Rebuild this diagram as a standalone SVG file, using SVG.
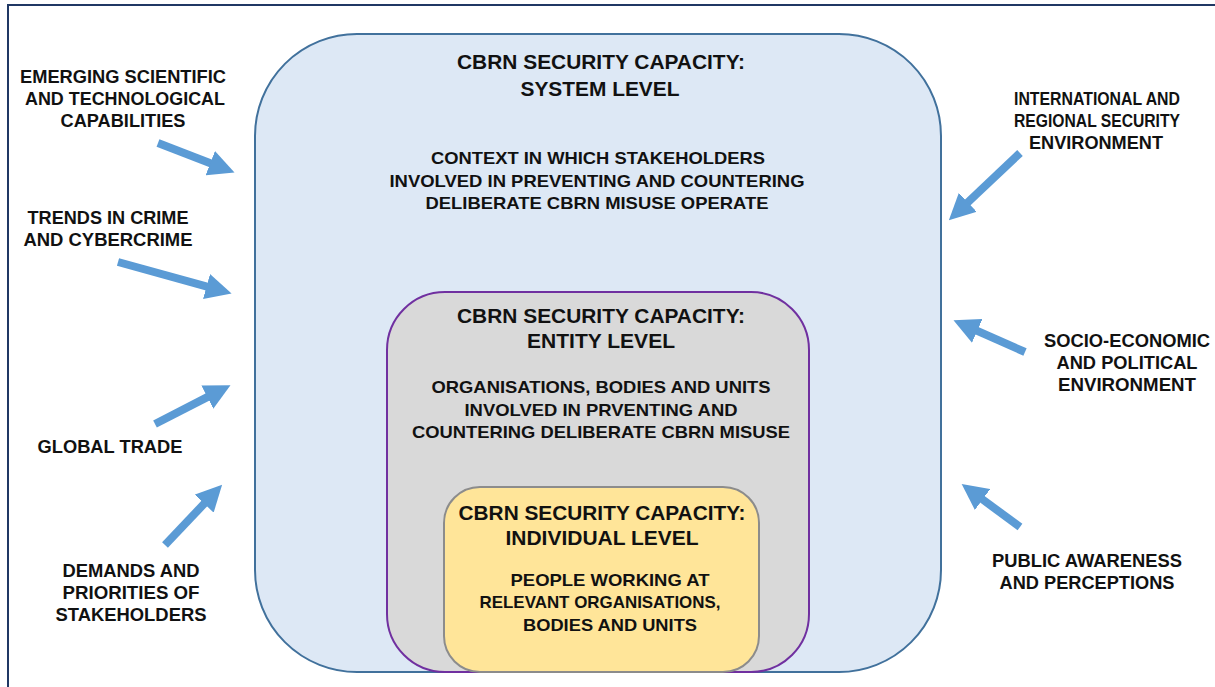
<svg xmlns="http://www.w3.org/2000/svg" width="1215" height="687" viewBox="0 0 1215 687">
  <style>
    text { font-family: "Liberation Sans", Arial, sans-serif; font-weight: bold; fill: #111; text-anchor: middle; }
    .title { font-size: 20px; }
    .body { font-size: 17px; }
    .lbl { font-size: 17.5px; }
    .arrow { stroke: #5b9bd5; stroke-width: 8; fill: none; marker-end: url(#head); }
  </style>
  <defs>
    <marker id="head" markerUnits="userSpaceOnUse" markerWidth="26" markerHeight="26" viewBox="0 0 24 24" refX="4" refY="12" orient="auto">
      <path d="M0,0 L24,12 L0,24 z" fill="#5b9bd5"/>
    </marker>
  </defs>

  <rect width="1215" height="687" fill="#ffffff"/>
  <!-- page frame -->
  <path d="M8,687 V5 H1215" fill="none" stroke="#203864" stroke-width="2"/>

  <!-- system level -->
  <g id="system">
    <rect x="255" y="34" width="686" height="638" rx="102" ry="102" fill="#dde8f5" stroke="#41719c" stroke-width="2"/>
    <text class="title" x="601" y="69" textLength="288" lengthAdjust="spacingAndGlyphs">CBRN SECURITY CAPACITY:</text>
    <text class="title" x="600" y="96" textLength="159" lengthAdjust="spacingAndGlyphs">SYSTEM LEVEL</text>
    <text class="body" x="598" y="164" textLength="334" lengthAdjust="spacingAndGlyphs">CONTEXT IN WHICH STAKEHOLDERS</text>
    <text class="body" x="597" y="187" textLength="415" lengthAdjust="spacingAndGlyphs">INVOLVED IN PREVENTING AND COUNTERING</text>
    <text class="body" x="597" y="209" textLength="343" lengthAdjust="spacingAndGlyphs">DELIBERATE CBRN MISUSE OPERATE</text>
  </g>

  <!-- entity level -->
  <g id="entity">
    <rect x="387" y="292" width="422" height="380" rx="58" ry="58" fill="#d9d9d9" stroke="#7030a0" stroke-width="2"/>
    <text class="title" x="601" y="323" textLength="288" lengthAdjust="spacingAndGlyphs">CBRN SECURITY CAPACITY:</text>
    <text class="title" x="601" y="348" textLength="148" lengthAdjust="spacingAndGlyphs">ENTITY LEVEL</text>
    <text class="body" x="601" y="393" textLength="339" lengthAdjust="spacingAndGlyphs">ORGANISATIONS, BODIES AND UNITS</text>
    <text class="body" x="601" y="416" textLength="273" lengthAdjust="spacingAndGlyphs">INVOLVED IN PRVENTING AND</text>
    <text class="body" x="601" y="438" textLength="378" lengthAdjust="spacingAndGlyphs">COUNTERING DELIBERATE CBRN MISUSE</text>
  </g>

  <!-- individual level -->
  <g id="individual">
    <rect x="444" y="487" width="315" height="185" rx="36" ry="36" fill="#ffe599" stroke="#8c8c8c" stroke-width="2"/>
    <text class="title" x="602" y="520" textLength="287" lengthAdjust="spacingAndGlyphs">CBRN SECURITY CAPACITY:</text>
    <text class="title" x="602" y="545" textLength="193" lengthAdjust="spacingAndGlyphs">INDIVIDUAL LEVEL</text>
    <text class="body" x="610" y="586" textLength="199" lengthAdjust="spacingAndGlyphs">PEOPLE WORKING AT</text>
    <text class="body" x="600" y="608" textLength="241" lengthAdjust="spacingAndGlyphs">RELEVANT ORGANISATIONS,</text>
    <text class="body" x="610" y="631" textLength="174" lengthAdjust="spacingAndGlyphs">BODIES AND UNITS</text>
  </g>

  <!-- outside influences, left -->
  <g id="emerging">
    <text class="lbl" x="123" y="83" textLength="206" lengthAdjust="spacingAndGlyphs">EMERGING SCIENTIFIC</text>
    <text class="lbl" x="125" y="105" textLength="200" lengthAdjust="spacingAndGlyphs">AND TECHNOLOGICAL</text>
    <text class="lbl" x="123" y="127" textLength="125" lengthAdjust="spacingAndGlyphs">CAPABILITIES</text>
  </g>
  <g id="trends">
    <text class="lbl" x="108" y="224" textLength="161" lengthAdjust="spacingAndGlyphs">TRENDS IN CRIME</text>
    <text class="lbl" x="108" y="246" textLength="169" lengthAdjust="spacingAndGlyphs">AND CYBERCRIME</text>
  </g>
  <g id="trade">
    <text class="lbl" x="110" y="453" textLength="145" lengthAdjust="spacingAndGlyphs">GLOBAL TRADE</text>
  </g>
  <g id="demands">
    <text class="lbl" x="131" y="577" textLength="137" lengthAdjust="spacingAndGlyphs">DEMANDS AND</text>
    <text class="lbl" x="131" y="599" textLength="137" lengthAdjust="spacingAndGlyphs">PRIORITIES OF</text>
    <text class="lbl" x="131" y="621" textLength="151" lengthAdjust="spacingAndGlyphs">STAKEHOLDERS</text>
  </g>

  <!-- outside influences, right -->
  <g id="international">
    <text class="lbl" x="1097" y="105" textLength="166" lengthAdjust="spacingAndGlyphs">INTERNATIONAL AND</text>
    <text class="lbl" x="1097" y="127" textLength="166" lengthAdjust="spacingAndGlyphs">REGIONAL SECURITY</text>
    <text class="lbl" x="1096" y="149" textLength="134" lengthAdjust="spacingAndGlyphs">ENVIRONMENT</text>
  </g>
  <g id="socio">
    <text class="lbl" x="1127" y="347" textLength="166" lengthAdjust="spacingAndGlyphs">SOCIO-ECONOMIC</text>
    <text class="lbl" x="1127" y="369" textLength="141" lengthAdjust="spacingAndGlyphs">AND POLITICAL</text>
    <text class="lbl" x="1127" y="391" textLength="138" lengthAdjust="spacingAndGlyphs">ENVIRONMENT</text>
  </g>
  <g id="public">
    <text class="lbl" x="1087" y="567" textLength="190" lengthAdjust="spacingAndGlyphs">PUBLIC AWARENESS</text>
    <text class="lbl" x="1087" y="589" textLength="175" lengthAdjust="spacingAndGlyphs">AND PERCEPTIONS</text>
  </g>

  <!-- connectors -->
  <g id="connectors">
    <line class="arrow" x1="158" y1="143" x2="214.3" y2="164.8"/>
    <line class="arrow" x1="118" y1="262" x2="210.7" y2="287.7"/>
    <line class="arrow" x1="155" y1="424" x2="211.2" y2="395.1"/>
    <line class="arrow" x1="165" y1="545" x2="207.2" y2="500.5"/>
    <line class="arrow" x1="1020" y1="153" x2="964.6" y2="205.3"/>
    <line class="arrow" x1="1025" y1="352" x2="973.3" y2="329.1"/>
    <line class="arrow" x1="1020" y1="527" x2="979.1" y2="496.9"/>
  </g>
</svg>
